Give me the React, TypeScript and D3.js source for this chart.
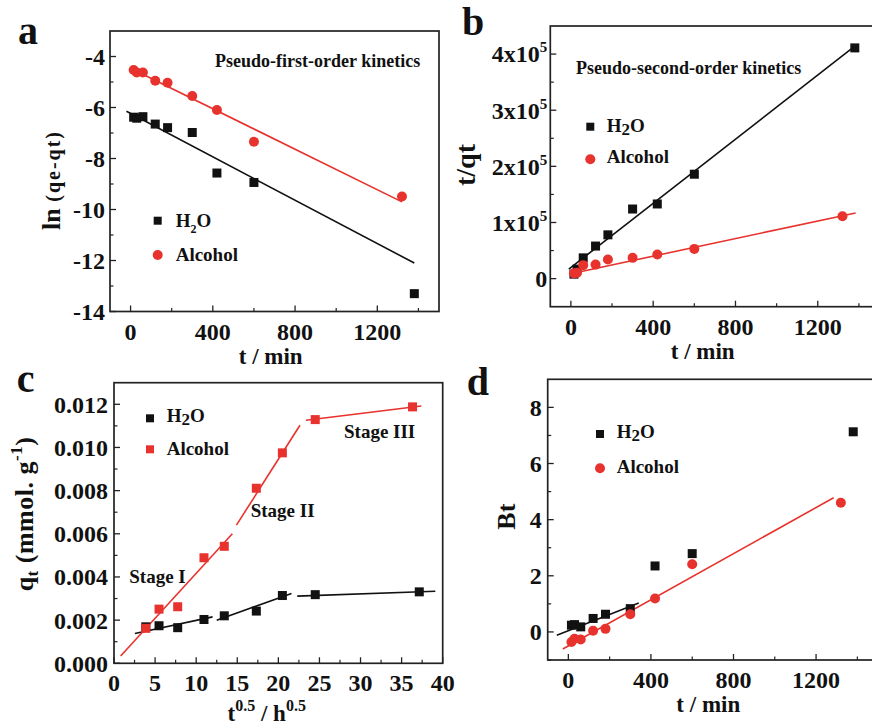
import React from "react";
import * as d3 from "d3";

// ---------- data ----------
const tH2O = [15, 30, 60, 120, 180, 300, 420, 600, 1380];
const tAlcohol = [15, 30, 60, 120, 180, 300, 420, 600, 1320];
const sqrtTH2O = [3.87, 5.48, 7.75, 10.95, 13.42, 17.32, 20.49, 24.49, 37.15];
const sqrtTAlcohol = [3.87, 5.48, 7.75, 10.95, 13.42, 17.32, 20.49, 24.49, 36.33];

// (a) pseudo-first-order: ln(qe-qt)
const lnH2O = [-6.38, -6.42, -6.36, -6.65, -6.79, -6.98, -8.57, -8.94, -13.3];
const lnAlcohol = [-4.53, -4.63, -4.63, -4.95, -5.03, -5.55, -6.1, -7.34, -9.49];
const fitA_H2O: [number, number][] = [[-20, -6.15], [1380, -12.1]];
const fitA_Alcohol: [number, number][] = [[10, -4.5], [1320, -9.7]];

// (b) pseudo-second-order: t/qt
const tqH2O = [8000, 17000, 37000, 58000, 78000, 124000, 133000, 186000, 411000];
const tqAlcohol = [9400, 10600, 24000, 25000, 34000, 37000, 43000, 53000, 111000];
const fitB_H2O: [number, number][] = [[-10, 17000], [1380, 414000]];
const fitB_Alcohol: [number, number][] = [[0, 8800], [1384, 117000]];

// (c) intraparticle diffusion: qt
const qtH2O = [0.00169, 0.00174, 0.00165, 0.00203, 0.0022, 0.00242, 0.00314, 0.00318, 0.00331];
const qtAlcohol = [0.00162, 0.00251, 0.00262, 0.00489, 0.00542, 0.00811, 0.00975, 0.01129, 0.01188];
const fitC_H2O: [number, number][][] = [
  [[2.54, 0.00138], [12.0, 0.00215]],
  [[12.5, 0.002], [21.6, 0.00323]],
  [[22.3, 0.00311], [39.1, 0.00334]],
];
const fitC_Alcohol: [number, number][][] = [
  [[0.81, 0.00034], [14.4, 0.006]],
  [[14.9, 0.0064], [22.63, 0.01103]],
  [[23.36, 0.01126], [37.4, 0.01192]],
];

// (d) Boyd: Bt
const BtH2O = [0.24, 0.26, 0.18, 0.48, 0.63, 0.83, 2.35, 2.79, 7.13];
const BtAlcohol = [-0.36, -0.24, -0.27, 0.04, 0.11, 0.63, 1.19, 2.41, 4.6];
const fitD_H2O: [number, number][] = [[-56, -0.12], [341, 1.03]];
const fitD_Alcohol: [number, number][] = [[-27, -0.61], [1285, 4.78]];

// ticks
const timeTicks = [0, 400, 800, 1200];
const timeMinor = [200, 600, 1000, 1400];
const aYTicks = [-14, -12, -10, -8, -6, -4];
const aYMinor = [-13, -11, -9, -7, -5];
const bYTicks = [0, 100000, 200000, 300000, 400000];
const bYMinor = [50000, 150000, 250000, 350000];
const cXTicks = [0, 5, 10, 15, 20, 25, 30, 35, 40];
const cXMinor = [2.5, 7.5, 12.5, 17.5, 22.5, 27.5, 32.5, 37.5];
const cYTicks = [0, 0.002, 0.004, 0.006, 0.008, 0.01, 0.012];
const cYMinor = [0.001, 0.003, 0.005, 0.007, 0.009, 0.011];
const dYTicks = [0, 2, 4, 6, 8];
const dYMinor = [-1, 1, 3, 5, 7];

const RED = "#e8322d";
const BLACK = "#111";
const FONT = "'Liberation Serif', 'Times New Roman', serif";

type Box = { l: number; r: number; t: number; b: number };
type Series = { xs: number[]; ys: number[]; color: string; shape: "square" | "circle" };

function Marker({ cx, cy, color, shape, size }: { cx: number; cy: number; color: string; shape: string; size: number }) {
  if (shape === "square")
    return <rect x={cx - size / 2} y={cy - size / 2} width={size} height={size} fill={color} />;
  return <circle cx={cx} cy={cy} r={size / 2 + 0.5} fill={color} />;
}

function H2O({ x, y, sub = 13, dy = 5 }: { x: number; y: number; sub?: number; dy?: number }) {
  return (
    <text x={x} y={y} fontSize={19}>
      H<tspan fontSize={sub} dy={dy}>2</tspan>
      <tspan dy={-dy}>O</tspan>
    </text>
  );
}

function Panel(props: {
  box: Box;
  xDomain: [number, number];
  yDomain: [number, number];
  xTicks: number[];
  xMinor: number[];
  yTicks: number[];
  yMinor: number[];
  yFmt: (v: number) => React.ReactNode;
  yLabelGap: number;
  series: Series[];
  lines: { pts: [number, number][]; color: string }[];
  children?: React.ReactNode;
}) {
  const { box, xDomain, yDomain } = props;
  const x = d3.scaleLinear().domain(xDomain).range([box.l, box.r]);
  const y = d3.scaleLinear().domain(yDomain).range([box.b, box.t]);
  const line = d3
    .line<[number, number]>()
    .x((d) => x(d[0]))
    .y((d) => y(d[1]));
  return (
    <g>
      {props.lines.map((l, i) => (
        <path key={"l" + i} d={line(l.pts) || ""} stroke={l.color} strokeWidth={1.6} fill="none" />
      ))}
      {props.series.map((s, si) =>
        s.xs.map((xv, i) => (
          <Marker key={si + "-" + i} cx={x(xv)} cy={y(s.ys[i])} color={s.color} shape={s.shape} size={9} />
        ))
      )}
      <rect x={box.l} y={box.t} width={box.r - box.l} height={box.b - box.t} fill="none" stroke="#222" strokeWidth={1.7} />
      {props.xTicks.map((v) => (
        <g key={"xt" + v}>
          <line x1={x(v)} x2={x(v)} y1={box.b} y2={box.b - 6} stroke="#222" strokeWidth={1.3} />
          <text x={x(v)} y={box.b + 28} fontSize={24} textAnchor="middle">
            {v}
          </text>
        </g>
      ))}
      {props.xMinor.map((v) => (
        <line key={"xm" + v} x1={x(v)} x2={x(v)} y1={box.b} y2={box.b - 3.5} stroke="#222" strokeWidth={1.2} />
      ))}
      {props.yTicks.map((v) => (
        <g key={"yt" + v}>
          <line x1={box.l} x2={box.l + 6} y1={y(v)} y2={y(v)} stroke="#222" strokeWidth={1.3} />
          <text x={box.l - props.yLabelGap} y={y(v)} dy="0.35em" fontSize={24} textAnchor="end">
            {props.yFmt(v)}
          </text>
        </g>
      ))}
      {props.yMinor.map((v) => (
        <line key={"ym" + v} x1={box.l} x2={box.l + 3.5} y1={y(v)} y2={y(v)} stroke="#222" strokeWidth={1.2} />
      ))}
      {props.children}
    </g>
  );
}

export default function App() {
  return (
    <svg
      width={872}
      height={726}
      style={{ position: "absolute", left: 0, top: 0, display: "block", background: "#fff", fontFamily: FONT }}
      fontWeight="bold"
      fill="#111"
    >
      <rect width={872} height={726} fill="#fff" />

      {/* ---------- a ---------- */}
      <Panel
        box={{ l: 110, r: 439, t: 31, b: 311.5 }}
        xDomain={[-100, 1500]}
        yDomain={[-14, -3]}
        xTicks={timeTicks}
        xMinor={timeMinor}
        yTicks={aYTicks}
        yMinor={aYMinor}
        yFmt={(v) => String(v)}
        yLabelGap={5}
        series={[
          { xs: tH2O, ys: lnH2O, color: BLACK, shape: "square" },
          { xs: tAlcohol, ys: lnAlcohol, color: RED, shape: "circle" },
        ]}
        lines={[
          { pts: fitA_H2O, color: BLACK },
          { pts: fitA_Alcohol, color: RED },
        ]}
      >
        <text x={215} y={67} fontSize={18}>Pseudo-first-order kinetics</text>
        <rect x={153.7} y={216.7} width={8} height={8} fill={BLACK} />
        <H2O x={175.7} y={227} sub={12} dy={6} />
        <circle cx={157.7} cy={255} r={5} fill={RED} />
        <text x={175.7} y={261} fontSize={19}>Alcohol</text>
        <text x={270.7} y={364} fontSize={23} textAnchor="middle">t / min</text>
        <text transform="translate(60,180) rotate(-90)" textAnchor="middle" fontSize={26}>
          ln <tspan fontSize={20} letterSpacing={2}>(qe-qt)</tspan>
        </text>
        <text x={18} y={44} fontSize={40}>a</text>
      </Panel>

      {/* ---------- b ---------- */}
      <Panel
        box={{ l: 550.3, r: 879.5, t: 26, b: 306.7 }}
        xDomain={[-100, 1500]}
        yDomain={[-50000, 450000]}
        xTicks={timeTicks}
        xMinor={timeMinor}
        yTicks={bYTicks}
        yMinor={bYMinor}
        yFmt={(v) =>
          v === 0 ? (
            "0"
          ) : (
            <>
              {v / 100000}x10<tspan fontSize={15} dy={-10}>5</tspan>
            </>
          )
        }
        yLabelGap={3}
        series={[
          { xs: tH2O, ys: tqH2O, color: BLACK, shape: "square" },
          { xs: tAlcohol, ys: tqAlcohol, color: RED, shape: "circle" },
        ]}
        lines={[
          { pts: fitB_H2O, color: BLACK },
          { pts: fitB_Alcohol, color: RED },
        ]}
      >
        <text x={576} y={74} fontSize={18}>Pseudo-second-order kinetics</text>
        <rect x={586.3} y={122.7} width={8} height={8} fill={BLACK} />
        <H2O x={606.7} y={132} sub={17} dy={3} />
        <circle cx={590.3} cy={159.3} r={5} fill={RED} />
        <text x={606.7} y={163.3} fontSize={19}>Alcohol</text>
        <text x={702.7} y={359} fontSize={23} textAnchor="middle">t / min</text>
        <text transform="translate(475,165) rotate(-90)" textAnchor="middle" fontSize={28}>t/qt</text>
        <text x={462} y={35} fontSize={40}>b</text>
      </Panel>

      {/* ---------- c ---------- */}
      <Panel
        box={{ l: 114, r: 442.7, t: 382.7, b: 663.3 }}
        xDomain={[0, 40]}
        yDomain={[0, 0.013]}
        xTicks={cXTicks}
        xMinor={cXMinor}
        yTicks={cYTicks}
        yMinor={cYMinor}
        yFmt={(v) => v.toFixed(3)}
        yLabelGap={6}
        series={[
          { xs: sqrtTH2O, ys: qtH2O, color: BLACK, shape: "square" },
          { xs: sqrtTAlcohol, ys: qtAlcohol, color: RED, shape: "square" },
        ]}
        lines={[
          ...fitC_H2O.map((pts) => ({ pts, color: BLACK })),
          ...fitC_Alcohol.map((pts) => ({ pts, color: RED })),
        ]}
      >
        <rect x={146} y={414.3} width={8} height={8} fill={BLACK} />
        <H2O x={166.7} y={421.7} sub={17} dy={3} />
        <rect x={146} y={445.3} width={8} height={8} fill={RED} />
        <text x={166.7} y={455} fontSize={19}>Alcohol</text>
        <text x={129.3} y={583} fontSize={19}>Stage I</text>
        <text x={250.7} y={516.7} fontSize={19}>Stage II</text>
        <text x={344} y={438.3} fontSize={19}>Stage III</text>
        <text x={266.7} y={721} fontSize={23} textAnchor="middle">
          t<tspan fontSize={16} dy={-10}>0.5</tspan>
          <tspan dy={10}> / h</tspan>
          <tspan fontSize={16} dy={-10}>0.5</tspan>
        </text>
        <text transform="translate(33,514) rotate(-90)" textAnchor="middle" fontSize={26} letterSpacing={0.5}>
          q<tspan fontSize={17} dy={5}>t</tspan>
          <tspan dy={-5}> (mmol. g</tspan>
          <tspan fontSize={17} dy={-11}>-1</tspan>
          <tspan dy={11}>)</tspan>
        </text>
        <text x={16.7} y={392} fontSize={40}>c</text>
      </Panel>

      {/* ---------- d ---------- */}
      <Panel
        box={{ l: 547.7, r: 878, t: 379.3, b: 660 }}
        xDomain={[-100, 1500]}
        yDomain={[-1, 9]}
        xTicks={timeTicks}
        xMinor={timeMinor}
        yTicks={dYTicks}
        yMinor={dYMinor}
        yFmt={(v) => String(v)}
        yLabelGap={6}
        series={[
          { xs: tH2O, ys: BtH2O, color: BLACK, shape: "square" },
          { xs: tAlcohol, ys: BtAlcohol, color: RED, shape: "circle" },
        ]}
        lines={[
          { pts: fitD_H2O, color: BLACK },
          { pts: fitD_Alcohol, color: RED },
        ]}
      >
        <rect x={596} y={430} width={8} height={8} fill={BLACK} />
        <H2O x={616.7} y={438.3} sub={17} dy={3} />
        <circle cx={600} cy={468.3} r={5} fill={RED} />
        <text x={616.7} y={473.3} fontSize={19}>Alcohol</text>
        <text x={708.3} y={712} fontSize={23} textAnchor="middle">t / min</text>
        <text transform="translate(515,516.7) rotate(-90)" textAnchor="middle" fontSize={26}>Bt</text>
        <text x={466.7} y={395} fontSize={40}>d</text>
      </Panel>
    </svg>
  );
}
